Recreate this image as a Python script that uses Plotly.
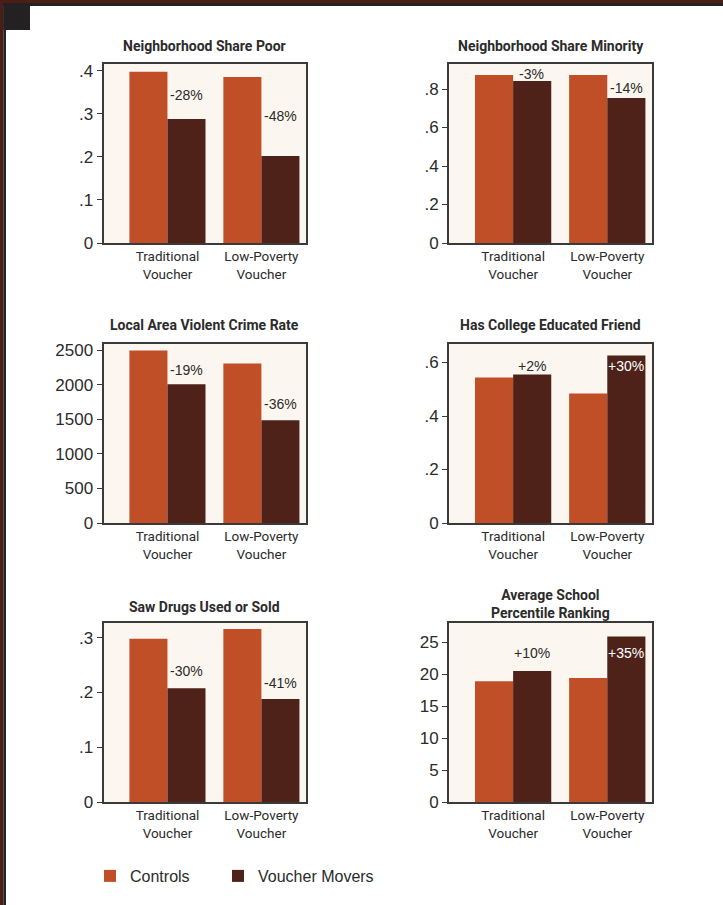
import plotly.graph_objects as go

W, H = 723, 905

categories = ["Traditional<br>Voucher", "Low-Poverty<br>Voucher"]
series_names = ["Controls", "Voucher Movers"]

titles = [
    "Neighborhood Share Poor",
    "Neighborhood Share Minority",
    "Local Area Violent Crime Rate",
    "Has College Educated Friend",
    "Saw Drugs Used or Sold",
    "Average School<br>Percentile Ranking",
]

poor_controls = [0.398, 0.386]
poor_movers = [0.288, 0.202]
poor_labels = ["-28%", "-48%"]

minority_controls = [0.873, 0.873]
minority_movers = [0.842, 0.753]
minority_labels = ["-3%", "-14%"]

crime_controls = [2500, 2312]
crime_movers = [2010, 1488]
crime_labels = ["-19%", "-36%"]

friend_controls = [0.544, 0.484]
friend_movers = [0.555, 0.626]
friend_labels = ["+2%", "+30%"]

drugs_controls = [0.298, 0.316]
drugs_movers = [0.208, 0.188]
drugs_labels = ["-30%", "-41%"]

school_controls = [18.9, 19.4]
school_movers = [20.5, 25.9]
school_labels = ["+10%", "+35%"]

poor_ticks = [0, 0.1, 0.2, 0.3, 0.4]
poor_ticktext = ["0", ".1", ".2", ".3", ".4"]
minority_ticks = [0, 0.2, 0.4, 0.6, 0.8]
minority_ticktext = ["0", ".2", ".4", ".6", ".8"]
crime_ticks = [0, 500, 1000, 1500, 2000, 2500]
crime_ticktext = ["0", "500", "1000", "1500", "2000", "2500"]
friend_ticks = [0, 0.2, 0.4, 0.6]
friend_ticktext = ["0", ".2", ".4", ".6"]
drugs_ticks = [0, 0.1, 0.2, 0.3]
drugs_ticktext = ["0", ".1", ".2", ".3"]
school_ticks = [0, 5, 10, 15, 20, 25]
school_ticktext = ["0", "5", "10", "15", "20", "25"]

# ---- styling / layout ----
C_CTRL = "#C04F27"
C_MOV = "#4E2219"
BG = "#FBF6EF"
TXT = "#2b2b2b"
NARROW = "Roboto, Liberation Sans Narrow, sans-serif"
SANS = "Liberation Sans, Arial, Helvetica, sans-serif"

panels = [
    (poor_controls, poor_movers, poor_labels, poor_ticks, poor_ticktext, 0.416, [24, 40], ["d", "d"]),
    (minority_controls, minority_movers, minority_labels, minority_ticks, minority_ticktext, 0.93, [7, 10], ["d", "d"]),
    (crime_controls, crime_movers, crime_labels, crime_ticks, crime_ticktext, 2600, [14, 16], ["d", "d"]),
    (friend_controls, friend_movers, friend_labels, friend_ticks, friend_ticktext, 0.671, [9, -10], ["d", "w"]),
    (drugs_controls, drugs_movers, drugs_labels, drugs_ticks, drugs_ticktext, 0.327, [17, 16], ["d", "d"]),
    (school_controls, school_movers, school_labels, school_ticks, school_ticktext, 28.0, [18, -17], ["d", "w"]),
]

# pixel boxes (left, right, top, bottom)
boxes = [
    (103.5, 306, 64, 243), (449, 652, 64, 243),
    (103.5, 306, 343.5, 523), (449, 652, 343.5, 523),
    (103.5, 306, 623, 802), (449, 652, 623, 802),
]
title_y = [46, 46, 325, 325, 607, 604]

fig = go.Figure()
annotations = []
layout_axes = {}

for i, (ctrl, mov, labels, tv, tt, ymax, shifts, tcols) in enumerate(panels):
    n = i + 1
    xa = "x" if n == 1 else f"x{n}"
    ya = "y" if n == 1 else f"y{n}"
    xs = [0, 1]
    fig.add_trace(go.Bar(x=xs, y=ctrl, name=series_names[0], marker_color=C_CTRL,
                         marker_line_width=0, xaxis=xa, yaxis=ya, offsetgroup="a",
                         showlegend=(n == 1), legend="legend"))
    fig.add_trace(go.Bar(x=xs, y=mov, name=series_names[1], marker_color=C_MOV,
                         marker_line_width=0, xaxis=xa, yaxis=ya, offsetgroup="b",
                         showlegend=(n == 1), legend="legend2"))
    l, r, t, b = boxes[i]
    xkey = "xaxis" if n == 1 else f"xaxis{n}"
    ykey = "yaxis" if n == 1 else f"yaxis{n}"
    layout_axes[xkey] = dict(
        domain=[l / W, r / W], anchor=ya, range=[-0.681, 1.475],
        tickmode="array", tickvals=[0, 1], ticktext=categories,
        tickfont=dict(family=NARROW, size=13.5, color=TXT),
        showline=True, mirror=True, linecolor="#3a3a3a", linewidth=2,
        ticks="", showgrid=False, zeroline=False, fixedrange=True, automargin=False,
    )
    layout_axes[ykey] = dict(
        domain=[1 - b / H, 1 - t / H], anchor=xa, range=[0, ymax],
        tickmode="array", tickvals=tv, ticktext=tt,
        tickfont=dict(family=SANS, size=17, color=TXT),
        showline=True, mirror=True, linecolor="#3a3a3a", linewidth=2,
        ticks="outside", ticklen=5, tickwidth=1, tickcolor="#3a3a3a",
        showgrid=False, zeroline=False, fixedrange=True, automargin=False,
    )
    for j in range(2):
        annotations.append(dict(
            x=j + 0.2, y=mov[j], xref=xa, yref=ya, text=labels[j],
            showarrow=False, yshift=shifts[j], yanchor="middle",
            font=dict(family=SANS, size=14, color="#ffffff" if tcols[j] == "w" else TXT),
        ))
    annotations.append(dict(
        x=(l + r) / 2 / W, y=1 - title_y[i] / H, xref="paper", yref="paper",
        text=f"<b>{titles[i]}</b>", showarrow=False, xanchor="center", yanchor="middle",
        font=dict(family=NARROW, size=14, color=TXT),
    ))

def px_rect(x0, y0, x1, y1, color):
    return dict(type="rect", xref="paper", yref="paper", x0=x0 / W, x1=x1 / W,
                y0=1 - y1 / H, y1=1 - y0 / H, fillcolor=color, line_width=0, layer="above")

shapes = [
    px_rect(0, 0, W, 3, "#4a1e16"),
    px_rect(0, 3, W, 6, "#232323"),
    px_rect(0, 0, 3.3, H, "#4a1e16"),
    px_rect(3.3, 3, 6, H, "#232323"),
    px_rect(3.3, 3, 30, 30, "#232121"),
]

legend_common = dict(orientation="h", xanchor="left", yanchor="middle",
                     font=dict(family=SANS, size=16, color=TXT), bgcolor="rgba(0,0,0,0)",
                     itemclick=False, itemdoubleclick=False)

fig.update_layout(
    width=W, height=H, autosize=False,
    margin=dict(l=0, r=0, t=0, b=0, pad=0, autoexpand=False),
    paper_bgcolor="white", plot_bgcolor=BG,
    barmode="group", bargap=0.19, bargroupgap=0,
    annotations=annotations, shapes=shapes,
    showlegend=True,
    legend=dict(x=90 / W, y=1 - 876 / H, **legend_common),
    legend2=dict(x=218 / W, y=1 - 876 / H, **legend_common),
    **layout_axes,
)

fig.write_html(
    "out.html",
    config={"responsive": False, "displayModeBar": False},
    post_script="document.body.style.margin='0';document.body.style.overflow='hidden';",
)
